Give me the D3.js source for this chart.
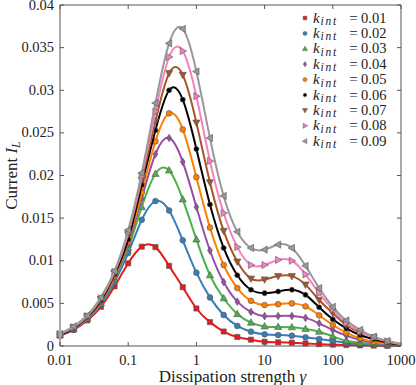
<!DOCTYPE html>
<html>
<head>
<meta charset="utf-8">
<script src="https://cdn.jsdelivr.net/npm/d3@7"></script>
<style>
body { margin: 0; background: #fff; }
text { font-family: "Liberation Serif", "DejaVu Serif", serif; fill: #222; }
</style>
</head>
<body>
<svg id="chart" width="416" height="385"></svg>
<script>
// dissipation strength (x), log spaced
const gamma = [0.01, 0.0158, 0.0251, 0.0398, 0.0631, 0.1, 0.158, 0.251, 0.398, 0.631,
    1, 1.58, 2.51, 3.98, 6.31, 10, 15.8, 25.1, 39.8, 63.1, 100, 158, 251, 398, 631, 1000];

// current I_L for each k_int
const k01 = [0.0012, 0.0019, 0.0030, 0.0046, 0.0070, 0.0097, 0.01165, 0.0116, 0.0094, 0.0069,
    0.0044, 0.0028, 0.0017, 0.00106, 0.00074, 0.0005, 0.00043, 0.00039, 0.0003, 0.00022,
    0.00016, 0.00011, 0.00007, 0.00005, 0.00003, 0.00002];
const k02 = [0.00125, 0.00195, 0.0031, 0.0048, 0.0075, 0.0109, 0.0148, 0.0170, 0.0159, 0.0124,
    0.0086, 0.0057, 0.00364, 0.00235, 0.00168, 0.00137, 0.00129, 0.00121, 0.00102, 0.00082,
    0.00059, 0.00039, 0.00023, 0.00013, 0.00007, 0.00003];
const k03 = [0.0013, 0.002, 0.0032, 0.0050, 0.0078, 0.0115, 0.0163, 0.0202, 0.0206, 0.0172,
    0.0125, 0.0083, 0.0056, 0.00375, 0.00274, 0.0023, 0.00224, 0.0022, 0.002, 0.00168,
    0.00113, 0.00062, 0.00039, 0.0002, 0.0001, 0.00005];
const k04 = [0.0013, 0.002, 0.0032, 0.0051, 0.0080, 0.0119, 0.0173, 0.0225, 0.0244, 0.0216,
    0.0163, 0.0112, 0.0075, 0.0052, 0.0040, 0.0035, 0.00352, 0.00352, 0.0033, 0.00266,
    0.00188, 0.00121, 0.0007, 0.00039, 0.0002, 0.0001];
const k05 = [0.0013, 0.0021, 0.0033, 0.0052, 0.0082, 0.0122, 0.0180, 0.0240, 0.0273, 0.0254,
    0.0198, 0.0139, 0.0095, 0.0068, 0.0053, 0.0048, 0.0049, 0.0050, 0.00465, 0.0036,
    0.00246, 0.00156, 0.0009, 0.0005, 0.00025, 0.0001];
const k06 = [0.0013, 0.0021, 0.0034, 0.0053, 0.0084, 0.0125, 0.0189, 0.0253, 0.0300, 0.0289,
    0.0231, 0.0166, 0.0115, 0.0083, 0.0066, 0.0062, 0.0064, 0.0066, 0.0060, 0.00454,
    0.00313, 0.00207, 0.00129, 0.00079, 0.00039, 0.00015];
const k07 = [0.0014, 0.0022, 0.0035, 0.0055, 0.0086, 0.0131, 0.0195, 0.0264, 0.0320, 0.0318,
    0.0262, 0.0192, 0.0135, 0.0099, 0.0079, 0.0078, 0.0082, 0.0082, 0.0072, 0.0054,
    0.00386, 0.00246, 0.00161, 0.00102, 0.0005, 0.0002];
const k08 = [0.0014, 0.0022, 0.0035, 0.0056, 0.0087, 0.0133, 0.0199, 0.0275, 0.0339, 0.0346,
    0.0293, 0.0217, 0.0156, 0.0116, 0.0095, 0.0095, 0.0101, 0.0100, 0.0084, 0.0062,
    0.0043, 0.0027, 0.0017, 0.001, 0.00055, 0.00022];
const k09 = [0.0014, 0.0023, 0.0036, 0.0057, 0.0088, 0.0136, 0.0203, 0.0285, 0.0355, 0.0372,
    0.0322, 0.0244, 0.0176, 0.0134, 0.0115, 0.0113, 0.0119, 0.0115, 0.0094, 0.0068,
    0.0046, 0.003, 0.0019, 0.0011, 0.0006, 0.00025];

const kLabels = ["0.01", "0.02", "0.03", "0.04", "0.05", "0.06", "0.07", "0.08", "0.09"];
const xTicks = [0.01, 0.1, 1, 10, 100, 1000];
const xTickLabels = ["0.01", "0.1", "1", "10", "100", "1000"];
const yTicks = [0, 0.005, 0.01, 0.015, 0.02, 0.025, 0.03, 0.035, 0.04];

const colors = ["#e41a1c", "#377eb8", "#4daf4a", "#984ea3", "#ff7f00", "#000000", "#a65628", "#f781bf", "#999999"];
const shapes = ["square", "circle", "triUp", "diamond", "circle", "dot", "triDown", "triRight", "triLeft"];

const seriesList = [k01, k02, k03, k04, k05, k06, k07, k08, k09].map((vals, i) => ({
    label: kLabels[i], color: colors[i], shape: shapes[i],
    points: vals.map((v, j) => ({ g: gamma[j], v: v }))
}));

const mLeft = 60, mRight = 401, mTop = 5, mBottom = 346;

const x = d3.scaleLog().domain([0.01, 1000]).range([mLeft, mRight]);
const y = d3.scaleLinear().domain([0, 0.04]).range([mBottom, mTop]);

const svg = d3.select("#chart");

// marker path, s = scale
function markerPath(shape, s) {
    switch (shape) {
        case "square":
            return `M${-2.6*s},${-2.6*s}h${5.2*s}v${5.2*s}h${-5.2*s}z`;
        case "circle":
            return d3.symbol(d3.symbolCircle, 26 * s * s)();
        case "dot":
            return d3.symbol(d3.symbolCircle, 20 * s * s)();
        case "diamond":
            return `M0,${-3.8*s}L${2.4*s},0L0,${3.8*s}L${-2.4*s},0z`;
        case "triUp":
            return `M0,${-3.8*s}L${3.6*s},${2.6*s}L${-3.6*s},${2.6*s}z`;
        case "triDown":
            return `M0,${3.8*s}L${3.6*s},${-2.6*s}L${-3.6*s},${-2.6*s}z`;
        case "triRight":
            return `M${3.8*s},0L${-2.6*s},${3.6*s}L${-2.6*s},${-3.6*s}z`;
        case "triLeft":
            return `M${-3.8*s},0L${2.6*s},${3.6*s}L${2.6*s},${-3.6*s}z`;
    }
}

const line = d3.line()
    .x(d => x(d.g))
    .y(d => y(d.v))
    .curve(d3.curveNatural);

const plot = svg.append("g");

seriesList.forEach(s => {
    plot.append("path")
        .datum(s.points)
        .attr("fill", "none")
        .attr("stroke", s.color)
        .attr("stroke-width", 2)
        .attr("d", line);

    plot.selectAll(null)
        .data(s.points.filter(p => p.g < 1000))
        .enter()
        .append("path")
        .attr("transform", p => `translate(${x(p.g)},${y(p.v)})`)
        .attr("d", markerPath(s.shape, 1))
        .attr("fill", s.color)
        .attr("stroke", "#555")
        .attr("stroke-width", 0.6);
});

// frame
svg.append("line").attr("x1", mLeft).attr("x2", mRight).attr("y1", mTop).attr("y2", mTop)
    .attr("stroke", "#555").attr("stroke-width", 1);
svg.append("line").attr("x1", mLeft).attr("x2", mRight).attr("y1", mBottom).attr("y2", mBottom)
    .attr("stroke", "#555").attr("stroke-width", 1);
svg.append("line").attr("x1", mLeft).attr("x2", mLeft).attr("y1", mTop).attr("y2", mBottom)
    .attr("stroke", "#aaa").attr("stroke-width", 2);
svg.append("line").attr("x1", mRight).attr("x2", mRight).attr("y1", mTop).attr("y2", mBottom)
    .attr("stroke", "#aaa").attr("stroke-width", 2);

// ticks, pointing inward
const axisFont = "14.5px";
const xAxisG = svg.append("g");
xTicks.forEach((t, i) => {
    xAxisG.append("line").attr("x1", x(t)).attr("x2", x(t)).attr("y1", mBottom).attr("y2", mBottom - 4)
        .attr("stroke", "#555");
    xAxisG.append("line").attr("x1", x(t)).attr("x2", x(t)).attr("y1", mTop).attr("y2", mTop + 4)
        .attr("stroke", "#555");
    xAxisG.append("text")
        .attr("x", x(t)).attr("y", mBottom + 18.5)
        .attr("text-anchor", "middle")
        .style("font-size", axisFont)
        .text(xTickLabels[i]);
});

const yAxisG = svg.append("g");
yTicks.forEach(t => {
    yAxisG.append("line").attr("x1", mLeft).attr("x2", mLeft + 4).attr("y1", y(t)).attr("y2", y(t))
        .attr("stroke", "#555");
    yAxisG.append("line").attr("x1", mRight).attr("x2", mRight - 4).attr("y1", y(t)).attr("y2", y(t))
        .attr("stroke", "#555");
    yAxisG.append("text")
        .attr("x", mLeft - 6).attr("y", y(t) + 4.5)
        .attr("text-anchor", "end")
        .style("font-size", axisFont)
        .text(t === 0 ? "0" : d3.format("~g")(t));
});

// axis titles
svg.append("text")
    .attr("x", (mLeft + mRight) / 2 + 2).attr("y", 382)
    .attr("text-anchor", "middle")
    .style("font-size", "17px")
    .html('Dissipation strength <tspan font-style="italic">γ</tspan>');

svg.append("text")
    .attr("transform", `translate(17,${(mTop + mBottom) / 2}) rotate(-90)`)
    .attr("text-anchor", "middle")
    .style("font-size", "17px")
    .html('Current <tspan font-style="italic">I</tspan><tspan font-style="italic" font-size="12px" dy="3">L</tspan>');

// legend
const legend = svg.append("g");
seriesList.forEach((s, i) => {
    const ly = 18 + i * 15.4;
    legend.append("path")
        .attr("transform", `translate(305,${ly})`)
        .attr("d", markerPath(s.shape, 0.7))
        .attr("fill", s.color)
        .attr("stroke", "#555")
        .attr("stroke-width", 0.5);
    legend.append("text")
        .attr("x", 313).attr("y", ly + 4.5)
        .style("font-size", "15px").style("font-style", "italic")
        .text("k");
    legend.append("text")
        .attr("x", 320.5).attr("y", ly + 7)
        .style("font-size", "11.5px").style("font-style", "italic")
        .style("letter-spacing", "1.8px")
        .text("int");
    legend.append("text")
        .attr("x", 353.5).attr("y", ly + 4.5)
        .attr("text-anchor", "middle")
        .style("font-size", "15px")
        .text("=");
    legend.append("text")
        .attr("x", 361).attr("y", ly + 4.5)
        .style("font-size", "14.5px")
        .text(s.label);
});
</script>
</body>
</html>
